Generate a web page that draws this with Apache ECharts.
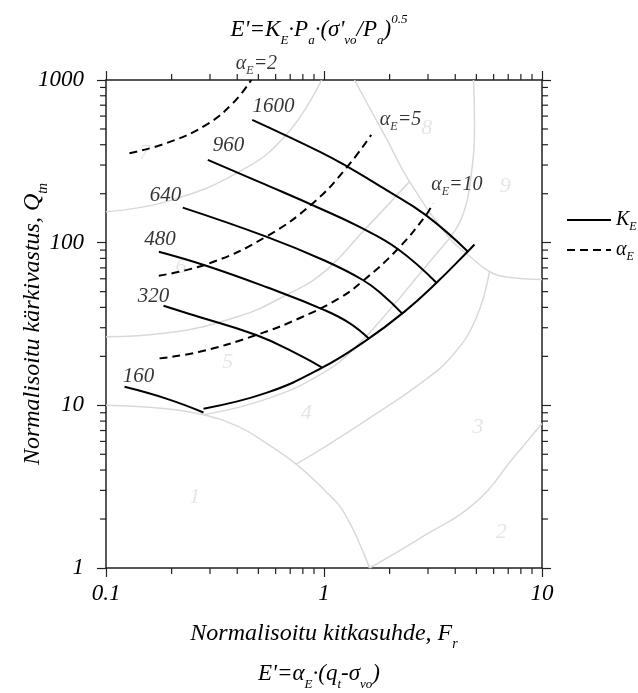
<!DOCTYPE html>
<html>
<head>
<meta charset="utf-8">
<script src="https://cdn.jsdelivr.net/npm/echarts@6/dist/echarts.min.js"></script>
<style>
html, body { margin: 0; padding: 0; background: #fff; }
#container { width: 638px; height: 693px; }
</style>
</head>
<body>
<div id="container"></div>
<script>
// axis ranges and ticks
var xRange = [0.1, 10];
var yRange = [1, 1000];
var xMinorTicks = [0.2, 0.3, 0.4, 0.5, 0.6, 0.7, 0.8, 0.9, 2, 3, 4, 5, 6, 7, 8, 9];
var yMinorTicks = [2, 3, 4, 5, 6, 7, 8, 9, 20, 30, 40, 50, 60, 70, 80, 90, 200, 300, 400, 500, 600, 700, 800, 900];

// K_E lines
var ke160 = [[0.1216, 13.0], [0.189, 11.0], [0.280, 9.04]];
var ke320 = [[0.1836, 40.96], [0.2416, 36.4], [0.4887, 27.04], [0.7721, 20.37], [0.981, 17.03]];
var ke480 = [[0.1747, 88.0], [0.2882, 72.2], [0.543, 53.4], [1.0053, 38.53], [1.309, 32.05], [1.605, 25.77]];
var ke640 = [[0.225, 164.2], [0.543, 108.9], [1.0053, 77.7], [1.507, 58.96], [1.861, 47.66], [2.28, 36.78]];
var ke960 = [[0.2931, 322.8], [0.543, 226.5], [0.9536, 162.8], [1.455, 124.9], [2.18, 91.45], [3.281, 56.65]];
var ke1600 = [[0.4686, 569.1], [0.9536, 363.1], [1.264, 296.5], [1.929, 211.0], [2.922, 148.1], [4.566, 88.27]];
var keBoundary = [[0.280, 9.54], [0.543, 11.92], [0.981, 17.03], [1.562, 25.08], [2.341, 37.67], [3.281, 56.65], [4.566, 88.27], [4.901, 97.48]];

// alpha_E lines
var ae2 = [[0.1281, 355], [0.189, 409], [0.288, 530], [0.382, 721], [0.4636, 1000]];
var ae5 = [[0.1747, 62.65], [0.2984, 74.7], [0.543, 108.9], [0.8885, 174.8], [1.264, 287.0], [1.646, 460.0]];
var ae10 = [[0.176, 19.44], [0.2685, 21.34], [0.4887, 27.04], [0.7993, 35.05], [1.178, 45.67], [1.507, 58.1], [2.18, 91.45], [2.943, 148.1], [3.155, 174.8]];

// soil behaviour zone boundaries (light grey)
var zoneA = [[0.1, 10], [0.1888, 9.53], [0.280, 8.75], [0.4098, 7.34], [0.543, 5.85], [0.7455, 4.35], [1.0053, 3.007], [1.242, 2.17], [1.617, 1]];
var zoneB = [[1.617, 1], [2.742, 1.517], [4.99, 2.548], [7.347, 4.713], [10, 7.738]];
var zoneT = [[0.7455, 4.35], [1.0053, 5.53], [1.617, 8.34], [2.742, 13.5], [3.898, 20.37], [4.99, 34.4], [5.743, 66.5]];
var zoneS = [[0.280, 8.75], [0.543, 10.92], [1.0053, 16.0], [1.455, 24.14], [1.997, 38.53], [2.84, 67.9], [3.765, 106.4]];
var zoneR = [[0.1, 26.4], [0.1888, 27.8], [0.4098, 35.4], [0.6713, 47.7], [1.0053, 66.3], [1.507, 116.9], [2.467, 237.3]];
var zoneQ = [[0.1, 155], [0.1888, 178.7], [0.4098, 273.5], [0.6713, 460], [0.975, 1000]];
var zoneP = [[1.38, 1000], [1.929, 439], [2.467, 237.3], [3.765, 106.4], [4.649, 82.8], [5.743, 66.5], [6.873, 61.5], [10, 59.4]];
var zoneV = [[4.85, 1000], [4.901, 530], [4.733, 261], [4.332, 148.1], [3.765, 106.4]];

// text labels
var keLabels = [[0.141, 15.1, '160'], [0.165, 46.5, '320'], [0.177, 105, '480'], [0.1875, 194, '640'], [0.365, 394, '960'], [0.587, 684, '1600']];
var aeLabels = [[0.49, 1258, '2'], [2.244, 569, '5'], [4.07, 226, '10']];
var zoneLabels = [[0.255, 2.73, '1'], [6.5, 1.67, '2'], [5.08, 7.37, '3'], [0.829, 8.9, '4'], [0.362, 18.5, '5'], [0.221, 70.2, '6'], [0.150, 355, '7'], [2.96, 506, '8'], [6.79, 221, '9']];

var FONT = '"Liberation Serif", "Times New Roman", serif';

function richStyles(size, lh) {
    var base = { fontStyle: 'italic', fontWeight: 'normal', fontFamily: FONT, color: '#000' };
    return {
        n: Object.assign({ fontSize: size, lineHeight: lh, verticalAlign: 'middle' }, base),
        s: Object.assign({ fontSize: Math.round(size * 0.58), lineHeight: Math.round(size * 0.55), verticalAlign: 'bottom' }, base),
        p: Object.assign({ fontSize: Math.round(size * 0.58), lineHeight: Math.round(lh * 0.8), verticalAlign: 'top' }, base)
    };
}

function tickLabel(v) {
    return String(+v.toPrecision(3));
}

var dom = document.getElementById('container');
var myChart = echarts.init(dom, null, { renderer: 'canvas' });

function curve(data, name, color, width, dash, z) {
    return {
        type: 'line',
        name: name,
        data: data,
        symbol: 'none',
        showSymbol: false,
        smooth: 0.45,
        silent: true,
        z: z,
        lineStyle: { color: color, width: width, type: dash },
        itemStyle: { color: color }
    };
}

var grey = '#d9d9d9';
var series = [
    curve(zoneA, 'zone', grey, 1.5, 'solid', 1),
    curve(zoneB, 'zone', grey, 1.5, 'solid', 1),
    curve(zoneT, 'zone', grey, 1.5, 'solid', 1),
    curve(zoneS, 'zone', grey, 1.5, 'solid', 1),
    curve(zoneR, 'zone', grey, 1.5, 'solid', 1),
    curve(zoneQ, 'zone', grey, 1.5, 'solid', 1),
    curve(zoneP, 'zone', grey, 1.5, 'solid', 1),
    curve(zoneV, 'zone', grey, 1.5, 'solid', 1),
    curve(ke160, 'K_E', '#000', 2, 'solid', 3),
    curve(ke320, 'K_E', '#000', 2, 'solid', 3),
    curve(ke480, 'K_E', '#000', 2, 'solid', 3),
    curve(ke640, 'K_E', '#000', 2, 'solid', 3),
    curve(ke960, 'K_E', '#000', 2, 'solid', 3),
    curve(ke1600, 'K_E', '#000', 2, 'solid', 3),
    curve(keBoundary, 'K_E', '#000', 2, 'solid', 3),
    curve(ae2, 'α_E', '#000', 2, [8, 5], 3),
    curve(ae5, 'α_E', '#000', 2, [8, 5], 3),
    curve(ae10, 'α_E', '#000', 2, [8, 5], 3),
    {
        type: 'scatter', data: keLabels, symbolSize: 1, clip: false, silent: true, z: 4,
        itemStyle: { color: 'rgba(0,0,0,0)' },
        label: { show: true, position: 'inside', formatter: function (p) { return p.data[2]; },
            fontSize: 21, fontStyle: 'italic', fontFamily: FONT, color: '#000' }
    },
    {
        type: 'scatter', data: aeLabels, symbolSize: 1, clip: false, silent: true, z: 4,
        itemStyle: { color: 'rgba(0,0,0,0)' },
        label: { show: true, position: 'inside',
            formatter: function (p) { return '{n|α}{s|E}{n|=' + p.data[2] + '}'; },
            rich: richStyles(20, 26) }
    },
    {
        type: 'scatter', data: zoneLabels, symbolSize: 1, clip: false, silent: true, z: 2,
        itemStyle: { color: 'rgba(0,0,0,0)' },
        label: { show: true, position: 'inside', formatter: function (p) { return p.data[2]; },
            fontSize: 22, fontStyle: 'italic', fontFamily: FONT, color: '#dedede' }
    },
    {
        // minor ticks on the x axes (bottom and top)
        type: 'custom', data: xMinorTicks.map(function (v) { return [v, yRange[0]]; }), silent: true, z: 5,
        renderItem: function (params, api) {
            var b = api.coord([api.value(0), yRange[0]]);
            var t = api.coord([api.value(0), yRange[1]]);
            var st = { stroke: '#222', lineWidth: 1.2 };
            return { type: 'group', children: [
                { type: 'line', shape: { x1: b[0], y1: b[1], x2: b[0], y2: b[1] + 6 }, style: st },
                { type: 'line', shape: { x1: t[0], y1: t[1], x2: t[0], y2: t[1] - 6 }, style: st }
            ] };
        }
    },
    {
        // minor ticks on the y axes (left and right)
        type: 'custom', data: yMinorTicks.map(function (v) { return [xRange[0], v]; }), silent: true, z: 5,
        renderItem: function (params, api) {
            var l = api.coord([xRange[0], api.value(1)]);
            var r = api.coord([xRange[1], api.value(1)]);
            var st = { stroke: '#222', lineWidth: 1.2 };
            return { type: 'group', children: [
                { type: 'line', shape: { x1: l[0], y1: l[1], x2: l[0] - 6, y2: l[1] }, style: st },
                { type: 'line', shape: { x1: r[0], y1: r[1], x2: r[0] + 6, y2: r[1] }, style: st }
            ] };
        }
    }
];

var axisLine = { show: true, onZero: false, lineStyle: { color: '#222', width: 1.5 } };
var axisTick = { show: true, inside: false, length: 9, lineStyle: { color: '#222', width: 1.2 } };
var labelFont = { fontSize: 23, fontStyle: 'italic', fontFamily: FONT, color: '#000' };

var option = {
    animation: false,
    backgroundColor: '#fff',
    title: [{
        left: 'center', top: 8,
        text: "{n|E'=K}{s|E}{n|·P}{s|a}{n|·(σ'}{s|vo}{n|/P}{s|a}{n|)}{p|0.5}",
        textStyle: { fontWeight: 'normal', rich: richStyles(23, 34) }
    }, {
        left: 'center', top: 652,
        text: "{n|E'=α}{s|E}{n|·(q}{s|t}{n|-σ}{s|vo}{n|)}",
        textStyle: { fontWeight: 'normal', rich: richStyles(23, 34) }
    }],
    legend: {
        show: true,
        data: ['K_E', 'α_E'],
        orient: 'vertical',
        left: 561, top: 205,
        itemWidth: 44, itemHeight: 14, itemGap: 7,
        itemStyle: { opacity: 0 },
        formatter: function (name) { return name === 'K_E' ? '{n|K}{s|E}' : '{n|α}{s|E}'; },
        textStyle: { rich: richStyles(20, 26) }
    },
    grid: { left: 106, right: 96, top: 80, bottom: 125, containLabel: false, outerBoundsMode: 'none' },
    xAxis: [{
        type: 'log', logBase: 10, min: xRange[0], max: xRange[1], position: 'bottom',
        axisLine: axisLine, axisTick: axisTick, splitLine: { show: false }, minorTick: { show: false },
        axisLabel: Object.assign({ margin: 14, formatter: tickLabel }, labelFont),
        name: '{n|Normalisoitu kitkasuhde, F}{s|r}', nameLocation: 'middle', nameGap: 49, nameMoveOverlap: false,
        nameTextStyle: { rich: richStyles(24, 34) }
    }, {
        type: 'log', logBase: 10, min: xRange[0], max: xRange[1], position: 'top',
        axisLine: axisLine, axisTick: axisTick, splitLine: { show: false },
        axisLabel: { show: false }
    }],
    yAxis: [{
        type: 'log', logBase: 10, min: yRange[0], max: yRange[1], position: 'left',
        axisLine: axisLine, axisTick: axisTick, splitLine: { show: false }, minorTick: { show: false },
        axisLabel: Object.assign({ margin: 22, formatter: tickLabel }, labelFont),
        name: '{n|Normalisoitu kärkivastus, Q}{s|tn}', nameLocation: 'middle', nameGap: 56, nameMoveOverlap: false,
        nameTextStyle: { rich: richStyles(24, 34) }
    }, {
        type: 'log', logBase: 10, min: yRange[0], max: yRange[1], position: 'right',
        axisLine: axisLine, axisTick: axisTick, splitLine: { show: false },
        axisLabel: { show: false }
    }],
    series: series
};

if (option && typeof option === 'object') {
    myChart.setOption(option, true);
}
</script>
</body>
</html>
